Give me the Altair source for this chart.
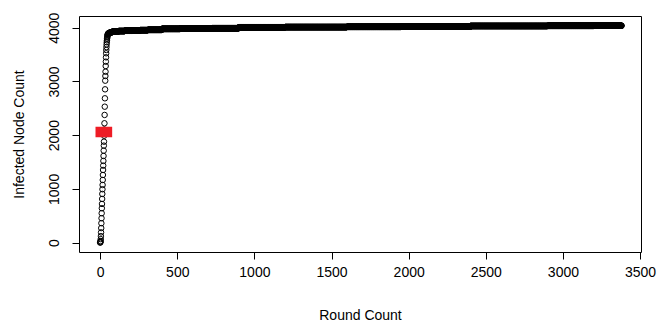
import altair as alt
import pandas as pd

# Round at which the infected count changes, and the new count (held until next change)
change_rounds = list(range(0, 51)) + [52, 55, 60, 66, 73, 82, 95, 120, 160, 210, 260,
                                       310, 400, 520, 640, 725, 900, 1200, 1600, 1950,
                                       2400, 2900, 3200]
change_counts = [0, 4, 12, 30, 65, 120, 190, 270, 361, 454, 547, 640, 720, 813, 906,
                 993, 1073, 1166, 1259, 1352, 1433, 1520, 1613, 1712, 1805, 1879, 1990,
                 2105, 2221, 2376, 2530, 2686, 2853, 3014, 3101, 3181, 3287, 3368, 3449,
                 3524, 3585, 3640, 3690, 3730, 3765, 3795, 3820, 3840, 3857, 3870, 3881,
                 3890, 3898, 3905, 3913, 3920, 3926, 3932, 3938, 3944, 3950, 3955, 3960,
                 3978, 3983, 3987, 3991, 4008, 4012, 4016, 4020, 4032,
                 4035, 4038, 4040]
last_round = 3380

# red marker block
box_x1 = [-30]
box_x2 = [78]
box_y1 = [1961]
box_y2 = [2158]

x_ticks = [0, 500, 1000, 1500, 2000, 2500, 3000, 3500]
y_ticks = [0, 1000, 2000, 3000, 4000]

# run-length decode of the per-round series
rounds, counts = [], []
idx = 0
for r in range(last_round + 1):
    while idx + 1 < len(change_rounds) and change_rounds[idx + 1] <= r:
        idx += 1
    rounds.append(r)
    counts.append(change_counts[idx])
df = pd.DataFrame({"round": rounds, "count": counts})
box_df = pd.DataFrame({"x1": box_x1, "x2": box_x2, "y1": box_y1, "y2": box_y2})

FONT = "Liberation Sans"
xscale = alt.Scale(domain=[-137, 3506], nice=False, zero=False)
yscale = alt.Scale(domain=[-175, 4218], nice=False, zero=False)

xaxis = alt.Axis(values=x_ticks, format="d", title="Round Count", domain=False, grid=False,
                 tickSize=7, tickColor="black", labelFont=FONT, labelFontSize=14,
                 labelColor="black", labelPadding=6, labelFlush=False,
                 titleFont=FONT, titleFontSize=14, titleFontWeight="normal",
                 titleColor="black", titleY=67, titleBaseline="alphabetic")
yaxis = alt.Axis(values=y_ticks, format="d", title="Infected Node Count", domain=False,
                 grid=False, tickSize=7, tickColor="black", labelFont=FONT,
                 labelFontSize=14, labelColor="black", labelAngle=270,
                 labelAlign="center", labelBaseline="alphabetic", labelPadding=14,
                 labelFlush=False, titleFont=FONT, titleFontSize=14,
                 titleFontWeight="normal", titleColor="black", titleX=-56,
                 titleBaseline="alphabetic")

points = alt.Chart(df).mark_point(shape="circle", filled=False, color="black",
                                  size=30, strokeWidth=1, opacity=1).encode(
    x=alt.X("round:Q", scale=xscale, axis=xaxis),
    y=alt.Y("count:Q", scale=yscale, axis=yaxis),
)

box = alt.Chart(box_df).mark_rect(color="#EE1C25").encode(
    x=alt.X("x1:Q", scale=xscale),
    x2="x2:Q",
    y=alt.Y("y1:Q", scale=yscale),
    y2="y2:Q",
)

chart = alt.layer(points, box).properties(
    width=562, height=236,
    padding={"left": 71, "top": 8, "right": 17, "bottom": 70},
    autosize=alt.AutoSizeParams(type="none"),
    background="white",
).configure_view(stroke="black", strokeWidth=1)

chart.save("out.html", embed_options={"renderer": "svg", "actions": False})
